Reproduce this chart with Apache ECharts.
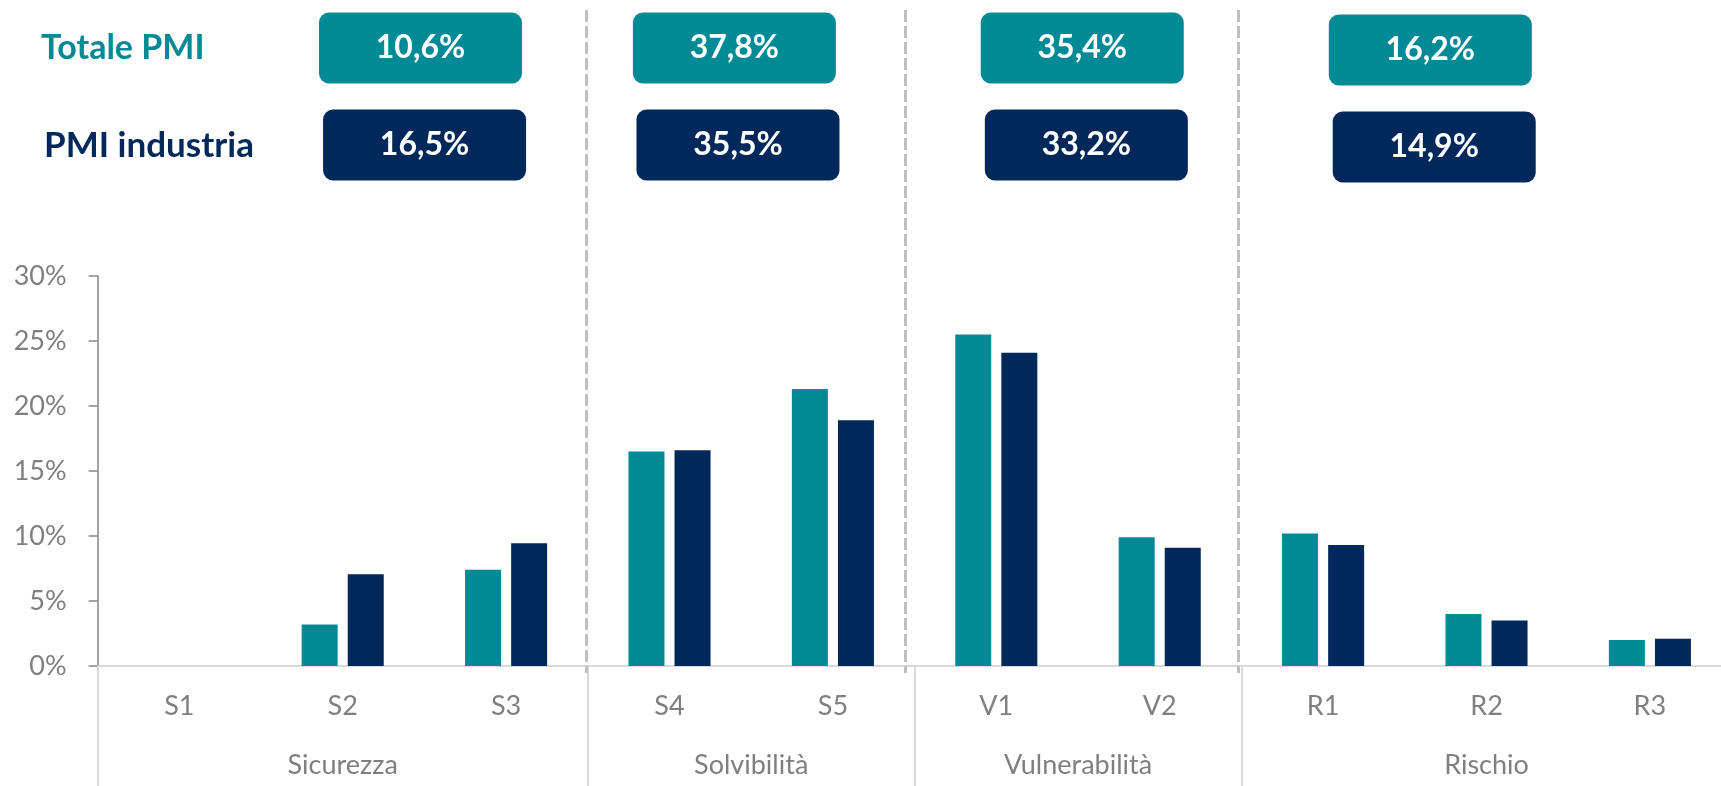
<!DOCTYPE html>
<html>
<head>
<meta charset="utf-8">
<script src="https://cdn.jsdelivr.net/npm/echarts@6/dist/echarts.min.js"></script>
<style>
html, body { margin: 0; padding: 0; background: #fff; }
#chart { width: 1721px; height: 786px; }
</style>
</head>
<body>
<div id="chart"></div>
<script>
// data
const categories = ['S1', 'S2', 'S3', 'S4', 'S5', 'V1', 'V2', 'R1', 'R2', 'R3'];
const groups = ['Sicurezza', 'Solvibilità', 'Vulnerabilità', 'Rischio'];
const groupSize = [3, 2, 2, 3];
const totalePMI = [0, 3.2, 7.4, 16.5, 21.3, 25.5, 9.9, 10.2, 4.0, 2.0];
const pmiIndustria = [0, 7.05, 9.45, 16.6, 18.9, 24.1, 9.1, 9.3, 3.5, 2.1];
const groupTotale = [10.6, 37.8, 35.4, 16.2];
const groupIndustria = [16.5, 35.5, 33.2, 14.9];
const seriesNames = ['Totale PMI', 'PMI industria'];

const TEAL = '#008a96';
const NAVY = '#00285a';
const GREY = '#7f7f7f';
const FONT = 'Lato';

// group boundaries / centers in category units
const bounds = [0];
groupSize.forEach(n => bounds.push(bounds[bounds.length - 1] + n));
const centers = groups.map((g, i) => (bounds[i] + bounds[i + 1]) / 2);

// header boxes layout (x in category units, y in px)
const boxX = [[1.976, 2.001], [3.897, 3.919], [6.026, 6.051], [8.156, 8.18]];
const boxY = [[48, 145], [48, 145], [48, 145], [50, 147]];
const dashX = [2.99, 4.94, 6.98];

const fmt = v => v.toFixed(1).replace('.', ',') + '%';

const boxData = [];
groups.forEach((g, i) => {
    boxData.push([boxX[i][0], boxY[i][0], groupTotale[i], 0]);
    boxData.push([boxX[i][1], boxY[i][1], groupIndustria[i], 1]);
});

var myChart = echarts.init(document.getElementById('chart'));

myChart.setOption({
    animation: false,
    textStyle: { fontFamily: FONT },
    grid: [
        { left: 97.6, width: 1634, top: 276, bottom: 120, outerBoundsMode: 'none', containLabel: false },
        { left: 97.6, width: 1634, top: 0, bottom: 0, outerBoundsMode: 'none', containLabel: false }
    ],
    xAxis: [
        {
            type: 'category', gridIndex: 0, data: categories,
            axisLine: { lineStyle: { color: '#d9d9d9', width: 2 } },
            axisTick: { show: false },
            axisLabel: { color: GREY, fontSize: 27, margin: 27, fontFamily: FONT }
        },
        {
            type: 'value', gridIndex: 0, min: 0, max: categories.length, position: 'bottom',
            axisLine: { show: false },
            splitLine: { show: false },
            axisTick: { show: true, customValues: bounds, length: 122, lineStyle: { color: '#d9d9d9', width: 2 } },
            axisLabel: {
                customValues: centers, color: GREY, fontSize: 27, margin: 86, fontFamily: FONT,
                formatter: v => groups[centers.indexOf(v)] || ''
            }
        },
        { type: 'value', gridIndex: 1, min: 0, max: categories.length, show: false }
    ],
    yAxis: [
        {
            type: 'value', gridIndex: 0, min: 0, max: 30, interval: 5,
            axisLine: { show: true, lineStyle: { color: '#868686', width: 1.5 } },
            axisTick: { show: true, length: 9, lineStyle: { color: '#868686', width: 1.5 } },
            splitLine: { show: false },
            axisLabel: { formatter: '{value}%', color: GREY, fontSize: 27, margin: 31, fontFamily: FONT }
        },
        { type: 'value', gridIndex: 1, min: 0, max: 786, inverse: true, show: false }
    ],
    graphic: [
        { type: 'text', left: 41, top: 31, style: { text: seriesNames[0], fill: TEAL, font: 'bold 34px Lato' } },
        { type: 'text', left: 44, top: 128, style: { text: seriesNames[1], fill: NAVY, font: 'bold 35px Lato' } }
    ],
    series: [
        {
            name: seriesNames[0], type: 'bar', xAxisIndex: 0, yAxisIndex: 0,
            data: totalePMI, barWidth: 36, barGap: '28%',
            itemStyle: { color: TEAL }
        },
        {
            name: seriesNames[1], type: 'bar', xAxisIndex: 0, yAxisIndex: 0,
            data: pmiIndustria, barWidth: 36, barGap: '28%',
            itemStyle: { color: NAVY }
        },
        {
            type: 'custom', xAxisIndex: 2, yAxisIndex: 1, silent: true,
            data: boxData,
            renderItem: function (params, api) {
                const p = api.coord([api.value(0), api.value(1)]);
                const w = 203, h = 71;
                const color = api.value(3) === 0 ? TEAL : NAVY;
                return {
                    type: 'group',
                    children: [
                        { type: 'rect', shape: { x: p[0] - w / 2, y: p[1] - h / 2, width: w, height: h, r: 10 }, style: { fill: color } },
                        { type: 'text', x: p[0], y: p[1], style: { text: fmt(api.value(2)), fill: '#fff', font: 'bold 32px Lato', align: 'center', verticalAlign: 'middle' } }
                    ]
                };
            },
            markLine: {
                silent: true, symbol: 'none', label: { show: false },
                lineStyle: { color: '#bfbfbf', width: 3, type: [12, 4] },
                data: dashX.map(x => [{ coord: [x, 10] }, { coord: [x, 673] }])
            }
        }
    ]
});
</script>
</body>
</html>
